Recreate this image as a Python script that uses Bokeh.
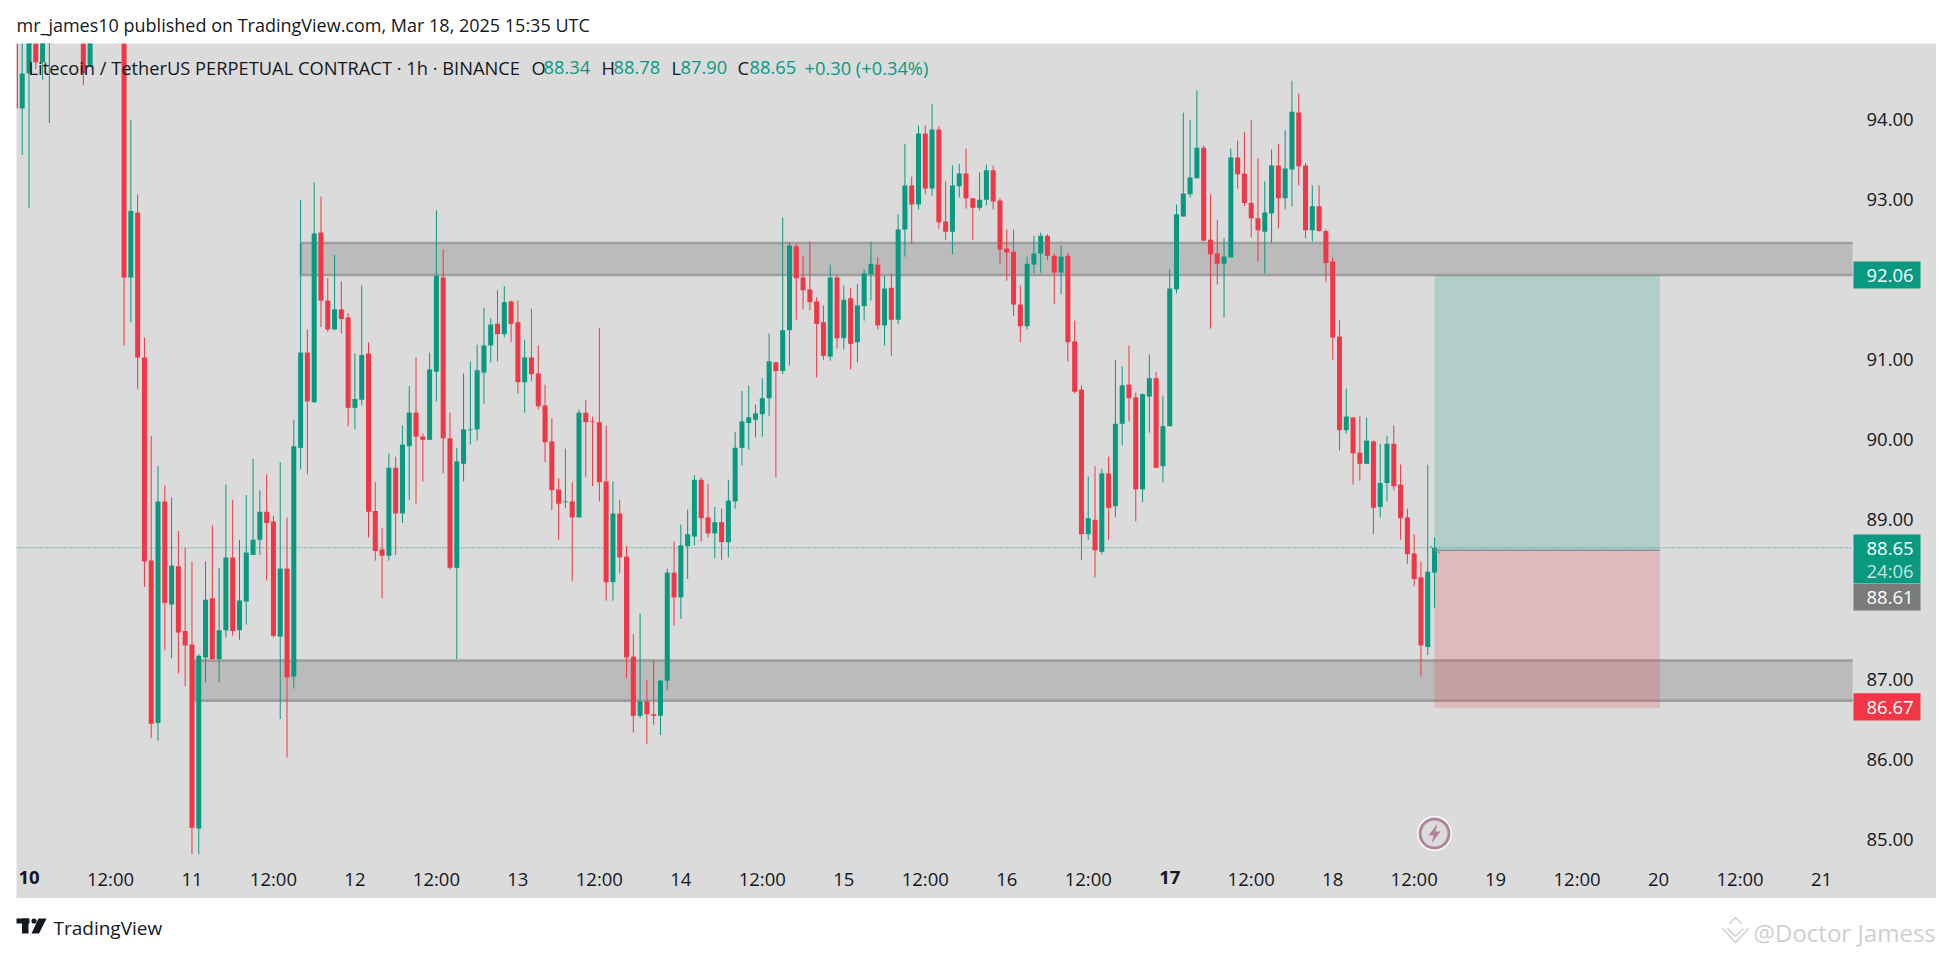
from bokeh.plotting import figure
from bokeh.layouts import column
from bokeh.models import Range1d, FixedTicker, ColumnDataSource
from bokeh.core.properties import value
from bokeh.embed import file_html
from bokeh.resources import INLINE

# ---- candle data (hours since 10 Mar 00:00) ----
hours = [-2, -1, 0, 1, 2, 3, 8, 9] + list(range(14, 208))
opens = [95.30, 94.14, 94.58, 95.20, 94.72, 95.10, 95.30, 94.66,
    96.00,92.03,92.84,91.03,88.49,86.46,89.23,87.94,88.42,87.61,
    87.44,85.14,87.28,88.02,87.26,87.62,88.53,87.62,87.98,88.56,
    88.75,89.10,88.98,87.54,88.39,87.04,89.90,91.09,90.47,92.59,
    91.74,91.38,91.63,91.53,90.40,90.50,91.08,89.11,88.63,88.55,
    89.65,89.08,89.92,90.34,90.04,90.00,90.85,92.03,90.02,88.40,
    89.70,90.12,90.13,90.84,91.18,91.45,91.32,91.73,91.47,90.72,
    91.03,90.83,90.43,89.98,89.38,89.22,89.23,89.03,90.34,90.23,
    90.22,89.48,88.22,89.08,88.54,87.29,86.55,86.73,86.57,86.55,
    86.99,88.34,88.03,88.67,88.79,89.50,89.03,88.83,88.97,88.72,
    89.23,89.90,90.21,90.25,90.32,90.52,90.97,90.86,91.37,92.42,
    92.03,91.88,91.73,91.47,91.04,92.03,91.27,91.77,91.22,91.67,
    92.07,92.19,91.43,91.90,91.50,92.63,93.18,92.94,93.83,93.14,
    93.88,92.73,92.60,93.17,93.33,93.02,92.90,93.00,93.37,92.99,
    92.39,92.35,91.69,91.42,92.19,92.33,92.55,92.30,92.09,92.30,
    91.23,90.63,88.82,89.00,88.60,89.58,89.17,90.20,90.69,90.53,
    89.38,90.54,90.77,89.67,90.17,91.88,92.79,93.07,93.27,93.65,
    92.50,92.33,92.20,92.28,93.53,93.33,92.96,92.77,92.60,92.83,
    93.43,93.02,93.38,94.09,93.43,92.62,92.92,92.61,92.23,91.29,
    90.12,90.28,89.84,89.70,89.98,89.16,89.46,89.95,89.44,89.03,
    88.58,88.28,87.41,88.34]
highs = [95.50, 95.20, 95.40, 95.50, 95.40, 95.80, 95.50, 95.50,
    96.20,94.00,93.07,91.28,90.05,89.67,89.43,89.28,88.86,88.65,
    88.48,87.32,88.48,88.93,88.40,89.44,89.25,88.75,89.31,89.76,
    89.37,89.57,89.05,89.72,89.03,90.25,93.00,91.38,93.22,93.04,
    92.02,92.31,91.98,91.58,91.08,91.93,91.22,89.47,88.90,89.83,
    89.79,90.18,90.67,91.03,90.08,91.09,92.87,92.38,90.34,89.90,
    90.83,90.98,91.19,91.65,91.52,91.87,91.92,91.74,91.74,91.25,
    91.64,91.18,90.69,90.27,89.52,89.89,89.47,90.38,90.50,90.29,
    91.40,90.18,89.48,89.25,88.67,87.57,87.83,87.00,87.24,87.00,
    88.39,88.73,88.94,89.13,89.56,89.53,89.45,89.16,89.14,89.50,
    90.10,90.61,90.68,90.44,90.77,91.33,90.97,92.78,92.47,92.45,
    92.30,92.48,91.78,91.68,92.19,92.05,91.93,91.90,91.95,92.13,
    92.48,92.28,92.05,92.08,92.82,93.70,93.29,93.93,93.93,94.20,
    93.92,93.23,93.43,93.45,93.64,93.02,93.34,93.44,93.43,93.02,
    92.63,92.63,91.93,92.29,92.55,92.59,92.57,92.33,92.43,92.34,
    91.49,90.68,89.54,89.67,89.64,89.79,91.00,90.92,91.18,90.59,
    90.58,91.07,90.85,90.55,92.13,92.94,94.09,94.00,94.37,93.68,
    93.07,92.75,92.52,93.64,93.74,93.85,94.00,93.52,93.23,93.63,
    93.70,93.87,94.49,94.33,93.46,93.18,93.18,92.63,92.28,91.50,
    90.64,90.28,90.30,90.28,89.99,89.95,90.05,90.18,89.69,89.14,
    88.82,88.48,89.69,88.78]
lows = [94.14, 93.56, 92.90, 94.63, 94.50, 93.96, 94.43, 94.66,
    91.18,91.47,90.63,88.16,86.27,86.24,87.37,87.27,87.08,86.92,
    84.82,84.82,86.97,87.25,86.97,87.53,87.55,87.50,87.69,88.56,
    88.56,88.24,87.53,86.51,86.03,86.89,89.63,89.57,90.46,91.41,
    91.35,91.37,91.33,90.17,90.13,90.43,88.78,88.49,88.02,88.49,
    88.56,88.96,89.25,89.20,89.48,90.00,90.48,89.58,88.38,87.26,
    89.48,89.94,89.99,90.45,90.97,90.98,91.28,91.22,90.58,90.34,
    90.73,90.38,89.72,89.12,88.75,89.15,88.23,89.03,89.53,89.42,
    89.23,87.99,87.99,88.33,87.02,86.34,86.52,86.20,86.44,86.31,
    86.87,87.68,87.76,88.26,88.68,88.73,88.78,88.52,88.50,88.53,
    89.14,89.68,89.88,90.03,90.04,90.30,89.53,90.82,90.93,91.50,
    91.63,91.62,90.78,91.00,90.99,91.14,91.13,90.88,90.97,91.49,
    91.74,91.38,91.18,91.05,91.45,92.29,92.45,92.88,93.07,93.05,
    92.64,92.50,92.32,93.03,92.89,92.50,92.87,92.93,92.88,92.20,
    91.99,91.55,91.22,91.38,92.08,92.09,92.25,91.70,91.82,90.98,
    90.58,88.50,88.75,88.28,88.57,88.75,89.03,89.93,90.23,88.98,
    89.22,90.09,89.65,89.47,90.17,91.83,92.79,93.03,93.27,92.48,
    91.39,91.94,91.53,92.28,93.14,92.92,92.53,92.23,92.08,92.46,
    92.64,92.88,92.92,93.18,92.52,92.48,92.60,91.97,91.00,89.87,
    90.08,89.44,89.49,89.70,88.82,89.03,89.23,89.37,88.75,88.45,
    88.17,87.04,87.31,87.90]
closes = [94.14, 94.58, 95.10, 94.72, 95.20, 95.50, 94.58, 95.30,
    92.03,92.86,91.03,88.48,86.45,89.23,87.96,88.43,87.59,87.43,
    85.15,87.30,88.00,87.26,87.62,88.53,87.61,87.99,88.59,88.75,
    89.10,88.96,87.55,88.39,87.03,89.92,91.09,90.48,92.58,91.74,
    91.38,91.63,91.51,90.40,90.51,91.06,89.10,88.61,88.55,89.65,
    89.08,89.94,90.34,90.04,90.00,90.88,92.05,90.02,88.40,89.73,
    90.13,90.13,90.87,91.18,91.44,91.32,91.72,91.45,90.72,91.03,
    90.82,90.42,89.97,89.37,89.20,89.23,89.03,90.34,90.22,90.22,
    89.47,88.22,89.08,88.53,87.28,86.55,86.73,86.57,86.55,86.99,
    88.34,88.03,88.68,88.82,89.50,89.02,88.83,88.97,88.72,89.24,
    89.90,90.23,90.28,90.33,90.52,90.98,90.86,91.37,92.43,92.02,
    91.87,91.72,91.45,91.05,92.03,91.27,91.75,91.20,91.68,92.08,
    92.20,91.43,91.89,91.50,92.63,93.18,92.94,93.83,93.14,93.88,
    92.72,92.60,93.18,93.33,93.02,92.90,93.00,93.37,92.98,92.38,
    92.34,91.69,91.42,92.20,92.33,92.55,92.30,92.09,92.29,91.22,
    90.60,88.82,89.02,88.62,89.58,89.15,90.20,90.68,90.52,89.38,
    90.57,90.77,89.65,90.17,91.89,92.82,93.08,93.28,93.65,92.49,
    92.32,92.20,92.29,93.53,93.32,92.96,92.77,92.62,92.84,93.43,
    93.02,93.39,94.10,93.42,92.62,92.92,92.61,92.21,91.28,90.12,
    90.29,89.83,89.70,89.99,89.15,89.46,89.95,89.42,89.02,88.57,
    88.26,87.43,88.35,88.65]

# ---- zones and position tool ----
zone_upper = (92.46, 92.06)
zone_lower = (87.24, 86.74)
zone_upper_start = 40.05
zone_lower_start = 24.4
pos_start, pos_end = 207.0, 240.2
pos_target, pos_entry, pos_stop = 92.06, 88.62, 86.65
last_price = 88.65

y_ticks = [85, 86, 87, 89, 90, 91, 93, 94]
y_labels = ["85.00", "86.00", "87.00", "89.00", "90.00", "91.00", "93.00", "94.00"]
time_ticks = [12, 24, 36, 48, 60, 72, 84, 96, 108, 120, 132, 144, 156, 180, 192, 204, 216, 228, 240, 252, 264]
time_labels = ["12:00", "11", "12:00", "12", "12:00", "13", "12:00", "14", "12:00", "15", "12:00", "16",
               "12:00", "12:00", "18", "12:00", "19", "12:00", "20", "12:00", "21"]

GREEN, RED, INK, GRAY = "#089981", "#f23645", "#131722", "#dbdbdb"
FONT = value("Open Sans")
PX_H, X0 = 6.79, 28.5
PX_V, Y94 = 80.0, 119.3
PANE_RIGHT = 1852


def hx(px):
    return (px - X0) / PX_H


def vy(py):
    return 94 - (py - Y94) / PX_V


# ---- header ----
header = figure(width=1936, height=35, x_range=Range1d(8, 1944), y_range=Range1d(43, 8),
                x_axis_location=None, y_axis_location=None, toolbar_location=None,
                output_backend="svg", min_border=0, outline_line_color=None,
                background_fill_color="white", border_fill_color="white")
header.grid.visible = False
header.text(x=[16], y=[24.3], text=["mr_james10 published on TradingView.com, Mar 18, 2025 15:35 UTC"],
            text_font=FONT, text_font_size="18px", text_color=INK, text_baseline="middle")

# ---- main chart: the frame is the whole grey pane, scale strips included ----
p = figure(frame_width=1920, frame_height=855, x_range=Range1d(hx(16), hx(1936)), y_range=Range1d(vy(898), vy(43)),
           y_axis_location="right", toolbar_location=None, output_backend="svg",
           min_border=0, background_fill_color=GRAY, border_fill_color=GRAY, outline_line_color=None,
           margin=(0, 0, 0, 8))
p.grid.visible = False
for ax in (p.xaxis[0], p.yaxis[0]):
    ax.axis_line_color = None
    ax.major_tick_line_color = None
    ax.minor_tick_line_color = None
    ax.major_tick_out = 0
    ax.major_tick_in = 0
    ax.major_label_text_font = "Open Sans"
    ax.major_label_text_font_size = "18.5px"
    ax.major_label_text_color = INK
p.yaxis[0].ticker = FixedTicker(ticks=y_ticks)
p.yaxis[0].major_label_overrides = dict(zip(y_ticks, y_labels))
p.yaxis[0].major_label_standoff = -70
p.xaxis[0].ticker = FixedTicker(ticks=time_ticks)
p.xaxis[0].major_label_overrides = dict(zip(time_ticks, time_labels))
p.xaxis[0].major_label_standoff = -33

pane_end = hx(PANE_RIGHT)
for (top, bot), start in ((zone_upper, zone_upper_start), (zone_lower, zone_lower_start)):
    p.quad(left=[start], right=[pane_end], top=[top], bottom=[bot], fill_color="#bbbbbb", line_color=None)
    p.segment(x0=[start, start, start], x1=[pane_end, pane_end, start], y0=[top, bot, bot], y1=[top, bot, top],
              line_color="#9e9e9e", line_width=2.7)
p.quad(left=[pos_start], right=[pos_end], top=[pos_target], bottom=[pos_entry],
       fill_color=GREEN, fill_alpha=0.2, line_color=None)
p.quad(left=[pos_start], right=[pos_end], top=[pos_entry], bottom=[pos_stop],
       fill_color=RED, fill_alpha=0.2, line_color=None)
p.segment(x0=[pos_start], x1=[pos_end], y0=[pos_entry], y1=[pos_entry], line_color="#787b86", line_width=1)
p.segment(x0=[hx(16)], x1=[pane_end], y0=[last_price], y1=[last_price], line_color=GREEN, line_width=1, line_dash="1 2")

colors = [GREEN if c >= o else RED for o, c in zip(opens, closes)]
src = ColumnDataSource(dict(x=hours, o=opens, h=highs, l=lows, c=closes, color=colors))
p.segment(x0="x", x1="x", y0="l", y1="h", line_color="color", line_width=1, source=src)
p.vbar(x="x", width=5 / PX_H, top="o", bottom="c", fill_color="color", line_color=None, source=src)

# bolt marker
bx, by = 207.0, vy(833)
p.scatter(x=[bx], y=[by], size=35, marker="circle", fill_color="#ffffff", line_color=None)
p.scatter(x=[bx], y=[by], size=29, marker="circle", fill_color=GRAY, line_color="#b0859c", line_width=3)
bolt = [(3, -10), (-6, 2), (-1, 2), (-3, 10), (6, -2), (1, -2)]
p.patch(x=[bx + dx / PX_H for dx, dy in bolt], y=[by - dy / PX_V for dx, dy in bolt],
        fill_color="#b0859c", line_color=None)

# small dashed pointer beside the last candle
p.segment(x0=[hx(1430)], x1=[hx(1440)], y0=[vy(546)], y1=[vy(553)], line_color="#8a8a8a", line_width=1.5, line_dash="2 1")

# legend line
legend = [(28, "Litecoin / TetherUS PERPETUAL CONTRACT · 1h · BINANCE", INK), (531, "O", INK), (543, "88.34", GREEN),
          (601, "H", INK), (613, "88.78", GREEN), (671, "L", INK), (680, "87.90", GREEN),
          (737, "C", INK), (749, "88.65", GREEN), (804, "+0.30 (+0.34%)", GREEN)]
for px, txt, col in legend:
    p.text(x=[hx(px)], y=[vy(67.3)], text=[txt], text_color=col, text_font=FONT,
           text_font_size="18.3px", text_baseline="middle")

# bold week-start labels
for hour, txt in ((0, "10"), (168, "17")):
    p.text(x=[hour], y=[vy(876.7)], text=[txt], text_color=INK, text_font=FONT, text_font_style="bold",
           text_font_size="18.5px", text_baseline="middle", text_align="center")

# price tags
tag_tops = [261, 534, 583.5, 692.7]
tag_bots = [288, 583, 610, 720]
tag_cols = [GREEN, GREEN, "#7b7b7b", RED]
p.quad(left=hx(1853), right=hx(1920), top=[vy(t) for t in tag_tops], bottom=[vy(b) for b in tag_bots],
       fill_color=tag_cols, line_color=None)
for py, txt, col in ((274.5, "92.06", "white"), (548.3, "88.65", "white"), (570.3, "24:06", "#c6e4de"),
                     (597, "88.61", "white"), (707.3, "86.67", "white")):
    p.text(x=[hx(1866)], y=[vy(py)], text=[txt], text_color=col, text_font=FONT,
           text_font_size="18.5px", text_baseline="middle")

# ---- footer ----
foot = figure(width=1944, height=55, x_range=Range1d(8, 1952), y_range=Range1d(953, 898),
              x_axis_location=None, y_axis_location=None, toolbar_location=None,
              output_backend="svg", min_border=0, outline_line_color=None,
              background_fill_color="white", border_fill_color="white")
foot.grid.visible = False
foot.quad(left=[16, 21.5], right=[29, 28], top=[918, 918], bottom=[923, 933], fill_color=INK, line_color=None)
foot.circle(x=[33.5], y=[920.5], radius=2.6, fill_color=INK, line_color=None)
foot.patch(x=[38, 46, 38.5, 31], y=[918, 918, 933, 933], fill_color=INK, line_color=None)
foot.text(x=[53], y=[927], text=["TradingView"], text_font=FONT, text_font_size="19px",
          text_color=INK, text_baseline="middle")
foot.text(x=[1753], y=[932], text=["@Doctor Jamess"], text_font=FONT,
          text_font_size="24px", text_color="#cfcfcf", text_baseline="middle")
foot.multi_line(xs=[[1722, 1735, 1748], [1727, 1735, 1743], [1729, 1735, 1741]],
                ys=[[928, 942, 928], [928, 936, 928], [923, 917, 923]], line_color="#cfcfcf", line_width=1.5)

page = column(header, p, foot, spacing=0, margin=(8, 0, 0, 8))
open("out.html", "w").write(file_html(page, INLINE))
